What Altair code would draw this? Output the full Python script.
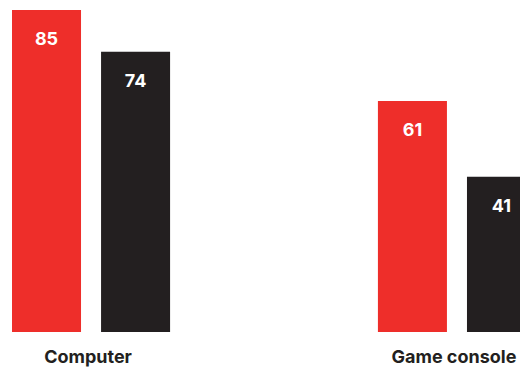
import altair as alt
import pandas as pd

categories = ["Computer", "Computer", "Game console", "Game console"]
series = ["A", "B", "A", "B"]
values = [85, 74, 61, 41]

df = pd.DataFrame({"category": categories, "series": series, "value": values})

RED = "#EE2E2A"
BLACK = "#231F20"

x = alt.X("category:N", title=None,
          scale=alt.Scale(range=[0, 524], paddingInner=0.568, paddingOuter=0),
          axis=alt.Axis(labelAngle=0, ticks=False, tickSize=0, domain=False,
                        labelPadding=16, labelOffset=-3, labelFontSize=18, labelFont="Inter",
                        labelFontWeight=700, labelColor=BLACK))
xo = alt.XOffset("series:N", scale=alt.Scale(paddingInner=0.225, paddingOuter=0))
y = alt.Y("value:Q", scale=alt.Scale(domain=[0, 85], nice=False, zero=True), axis=None)

bars = alt.Chart(df).mark_bar(clip=True).encode(
    x=x, xOffset=xo, y=y,
    color=alt.Color("series:N", scale=alt.Scale(domain=["A", "B"], range=[RED, BLACK]), legend=None),
)

labels = alt.Chart(df).mark_text(
    dy=30, baseline="middle", align="center", color="white",
    font="Inter", fontSize=18, fontWeight=700, clip=True,
).encode(x=x, xOffset=xo, y=y, text="value:Q")

chart = (bars + labels).properties(
    width=508, height=322,
    padding={"left": 4, "right": 0, "top": 2, "bottom": 37},
    autosize=alt.AutoSizeParams(type="none"),
).configure_view(stroke=None).configure_axis(grid=False)

chart.save("out.html", embed_options={"renderer": "svg", "actions": False})
